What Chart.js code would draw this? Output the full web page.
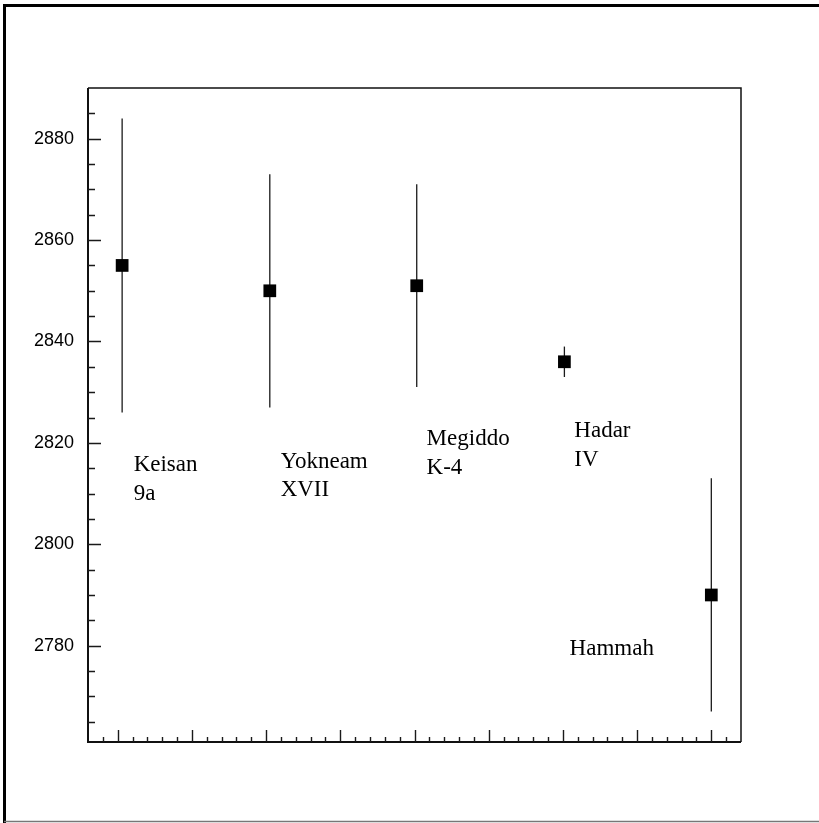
<!DOCTYPE html>
<html>
<head>
<meta charset="utf-8">
<script src="https://cdn.jsdelivr.net/npm/chart.js@4.4.0/dist/chart.umd.min.js"></script>
<style>
    html, body { margin: 0; padding: 0; background: #fff; }
    #wrap { width: 819px; height: 823px; position: relative; }
</style>
</head>
<body>
<div id="wrap"><canvas id="dateChart"></canvas></div>
<script>
// sites, x position along the axis, central date and error range
const sites = ['Keisan 9a', 'Yokneam XVII', 'Megiddo K-4', 'Hadar IV', 'Hammah'];
const siteX = [1.06, 3.05, 5.03, 7.02, 9.0];
const dates = [2855, 2850, 2851, 2836, 2790];
const dateLow = [2826, 2827, 2831, 2833, 2767];
const dateHigh = [2884, 2873, 2871, 2839, 2813];
const yTickValues = [2780, 2800, 2820, 2840, 2860, 2880];

// text labels written next to each point (data coords of the first line)
const labelLines = [['Keisan', '9a'], ['Yokneam', 'XVII'], ['Megiddo', 'K-4'], ['Hadar', 'IV'], ['Hammah']];
const labelX = [1.215, 3.196, 5.163, 7.154, 7.09];
const labelY = [2814.4, 2815.1, 2819.5, 2821.1, 2778.2];

const points = siteX.map((x, i) => ({ x: x, y: dates[i] }));

const frameAndBars = {
    id: 'frameAndBars',
    beforeDraw(chart) {
        const ctx = chart.ctx;
        ctx.save();
        ctx.fillStyle = '#fff';
        ctx.fillRect(0, 0, chart.width, chart.height);
        // outer frame
        ctx.strokeStyle = '#000';
        ctx.lineWidth = 3;
        ctx.beginPath();
        ctx.moveTo(4.5, 823);
        ctx.lineTo(4.5, 5.5);
        ctx.lineTo(819, 5.5);
        ctx.stroke();
        ctx.strokeStyle = '#777';
        ctx.lineWidth = 1.5;
        ctx.beginPath();
        ctx.moveTo(4, 821.5);
        ctx.lineTo(819, 821.5);
        ctx.stroke();
        ctx.restore();
    },
    beforeDatasetsDraw(chart) {
        const ctx = chart.ctx;
        const xs = chart.scales.x, ys = chart.scales.y;
        ctx.save();
        ctx.strokeStyle = '#1a1a1a';
        ctx.lineWidth = 1.3;
        for (let i = 0; i < siteX.length; i++) {
            const px = xs.getPixelForValue(siteX[i]);
            ctx.beginPath();
            ctx.moveTo(px, ys.getPixelForValue(dateHigh[i]));
            ctx.lineTo(px, ys.getPixelForValue(dateLow[i]));
            ctx.stroke();
        }
        ctx.restore();
    },
    afterDraw(chart) {
        const ctx = chart.ctx;
        const xs = chart.scales.x, ys = chart.scales.y;
        const a = chart.chartArea;
        ctx.save();
        // box
        ctx.strokeStyle = '#111';
        ctx.lineWidth = 1.5;
        ctx.beginPath();
        ctx.moveTo(a.left, a.top);
        ctx.lineTo(a.right, a.top);
        ctx.lineTo(a.right, a.bottom);
        ctx.stroke();
        ctx.lineWidth = 2;
        ctx.beginPath();
        ctx.moveTo(a.left, a.top);
        ctx.lineTo(a.left, a.bottom);
        ctx.lineTo(a.right, a.bottom);
        ctx.stroke();

        // inward ticks
        ctx.lineWidth = 1.4;
        ctx.strokeStyle = '#1a1a1a';
        ctx.beginPath();
        for (let k = 4; k < 47; k++) {
            const px = Math.round(xs.getPixelForValue(k / 5)) + 0.5;
            const len = (k % 5 === 0) ? 12 : 5;
            ctx.moveTo(px, a.bottom);
            ctx.lineTo(px, a.bottom - len);
        }
        for (let v = 2765; v <= 2885; v += 5) {
            const py = Math.round(ys.getPixelForValue(v)) + 0.5;
            const len = (v % 20 === 0) ? 13 : 7;
            ctx.moveTo(a.left, py);
            ctx.lineTo(a.left + len, py);
        }
        ctx.stroke();

        // site labels
        ctx.fillStyle = '#000';
        ctx.font = '23px "Liberation Serif", "Times New Roman", serif';
        ctx.textAlign = 'left';
        ctx.textBaseline = 'alphabetic';
        for (let i = 0; i < labelLines.length; i++) {
            const px = xs.getPixelForValue(labelX[i]);
            const py = ys.getPixelForValue(labelY[i]);
            labelLines[i].forEach((line, j) => {
                ctx.fillText(line, px, py + j * 28.5);
            });
        }
        ctx.restore();
    }
};

const ctx = document.getElementById('dateChart').getContext('2d');
const dateChart = new Chart(ctx, {
    type: 'scatter',
    data: {
        datasets: [{
            label: 'Dates',
            data: points,
            pointStyle: 'rect',
            pointRadius: 9,
            pointHoverRadius: 9,
            backgroundColor: '#000',
            borderColor: '#000',
            borderWidth: 0
        }]
    },
    options: {
        responsive: true,
        maintainAspectRatio: false,
        animation: false,
        events: [],
        layout: {
            padding: { left: 0, top: 88, right: 78, bottom: 81 }
        },
        plugins: {
            legend: { display: false },
            tooltip: { enabled: false }
        },
        scales: {
            x: {
                type: 'linear',
                min: 0.6,
                max: 9.4,
                grid: { display: false, drawTicks: false },
                border: { display: false },
                ticks: { display: false },
                afterFit(scale) { scale.height = 0; }
            },
            y: {
                type: 'linear',
                min: 2761,
                max: 2890,
                grid: { display: false, drawTicks: false },
                border: { display: false },
                afterBuildTicks(scale) {
                    scale.ticks = yTickValues.map(v => ({ value: v }));
                },
                afterFit(scale) { scale.width = 88; },
                ticks: {
                    padding: 14,
                    color: '#000',
                    font: { family: '"Liberation Sans", Arial, sans-serif', size: 18 },
                    callback: v => String(v)
                }
            }
        }
    },
    plugins: [frameAndBars]
});
</script>
</body>
</html>
